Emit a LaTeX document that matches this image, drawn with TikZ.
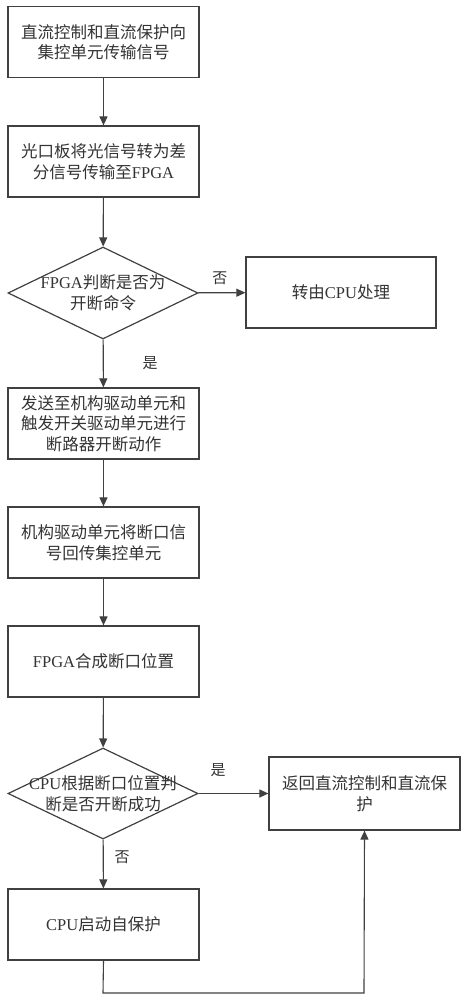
\documentclass[tikz,border=0pt]{standalone}
\usepackage{fontspec}
\setmainfont{Liberation Serif}
\newfontfamily\cjk{Noto Sans CJK SC}
\usetikzlibrary{shapes.geometric,arrows.meta}
\definecolor{ln}{HTML}{404040}
\definecolor{tx}{HTML}{333333}
\begin{document}
\begin{tikzpicture}[x=1pt,y=-1pt,
  every node/.style={text=tx,font=\fontsize{16.5}{20.5}\selectfont},
  box/.style={draw=ln,line width=1.2pt,rectangle,minimum width=191pt,minimum height=71pt,align=center,inner sep=0pt},
  dia/.style={draw=ln,line width=1.2pt,diamond,minimum width=190pt,minimum height=92pt,inner sep=0pt,aspect=2.07},
  conn/.style={draw=ln,line width=1.1pt,-{Triangle[length=9pt,width=8pt]}},
  lab/.style={font=\fontsize{15}{16}\selectfont\cjk}]
\useasboundingbox (0,0) rectangle (466,1000);
\node[box] (b1) at (103.5,42) {\cjk 直流控制和直流保护向\\\cjk 集控单元传输信号};
\node[box] (b2) at (103.5,161.5) {\cjk 光口板将光信号转为差\\{\cjk 分信号传输至}FPGA};
\node[dia,label={[align=center,font=\fontsize{16.5}{20.5}\selectfont,text=tx]center:FPGA{\cjk 判断是否为}\\\cjk 开断命令}] (d1) at (103,293) {};
\node[box,minimum width=190pt] (cpu) at (341,292.5) {{\cjk 转由}CPU{\cjk 处理}};
\node[box] (b3) at (103.5,423.5) {\cjk 发送至机构驱动单元和\\\cjk 触发开关驱动单元进行\\\cjk 断路器开断动作};
\node[box] (b4) at (103.5,542.5) {\cjk 机构驱动单元将断口信\\\cjk 号回传集控单元};
\node[box] (b5) at (103.5,661.5) {FPGA{\cjk 合成断口位置}};
\node[dia,minimum height=91pt,label={[align=center,font=\fontsize{16.5}{20.5}\selectfont,text=tx]center:CPU{\cjk 根据断口位置判}\\\cjk 断是否开断成功}] (d2) at (103,793.5) {};
\node[box,minimum height=73pt] (ret) at (364.5,793.5) {\cjk 返回直流控制和直流保\\\cjk 护};
\node[box] (b6) at (103.5,924.5) {{CPU\cjk 启动自保护}};
\coordinate (c1) at (103,993);
\coordinate (c2) at (364,993);
\draw[conn] (b1) -- (b2);
\draw[conn] (b2) -- (d1);
\draw[conn] (d1) -- node[lab,pos=0.5,above=4pt,xshift=-2pt] {否} (cpu);
\draw[conn] (d1) -- (b3);
\node[lab] (l1) at (150,363) {是};
\draw[conn] (b3) -- (b4);
\draw[conn] (b4) -- (b5);
\draw[conn] (b5) -- (d2);
\draw[conn] (d2) -- (ret);
\node[lab] (l2) at (218,770) {是};
\draw[conn] (d2) -- (b6);
\node[lab] (l3) at (122,857) {否};
\draw[conn] (b6.south) -- (c1) -- (c2) -- (ret.south);
\end{tikzpicture}
\end{document}
